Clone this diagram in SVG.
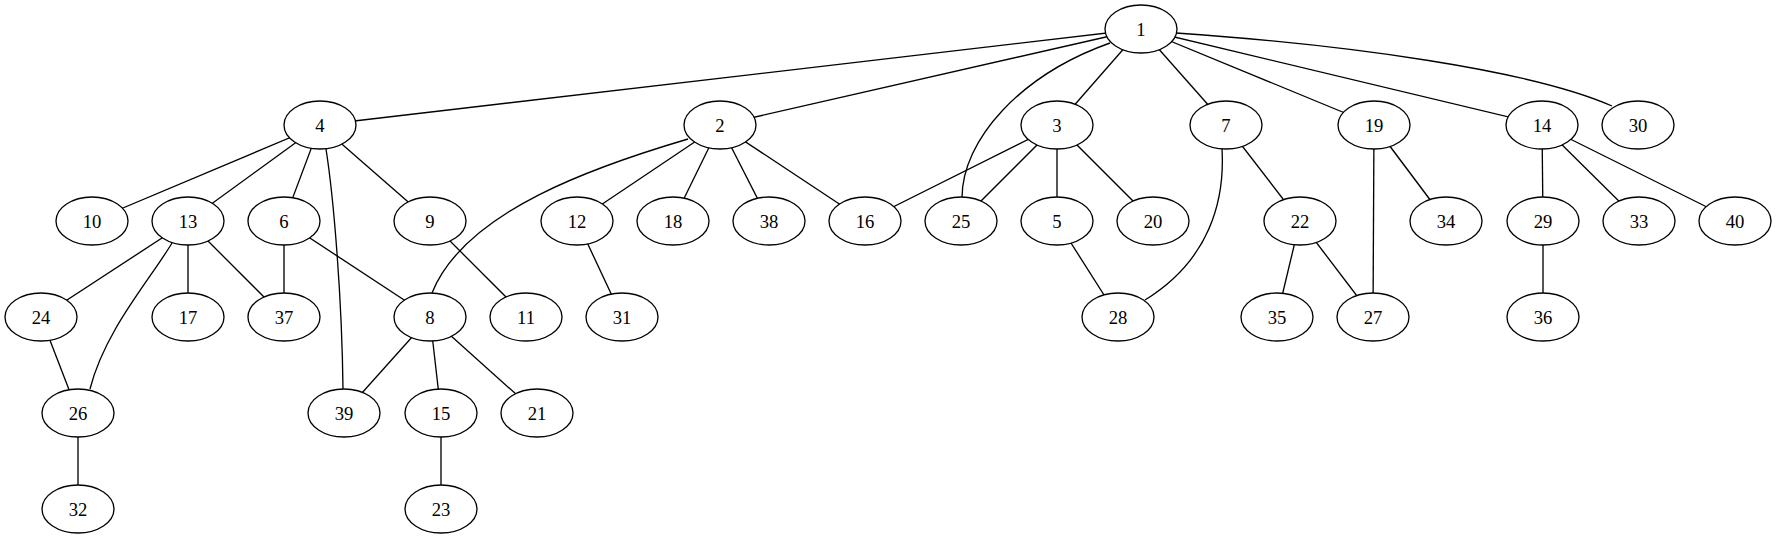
<svg xmlns="http://www.w3.org/2000/svg" width="1776" height="539" viewBox="0 0 1776 539">
<style>
.e{stroke:#000;stroke-width:1.33;fill:none}
.n ellipse{fill:#fff;stroke:#000;stroke-width:1.33}
.n text{font-family:"Liberation Serif","Times New Roman",serif;font-size:18.67px;text-anchor:middle;fill:#000}
</style>
<rect width="1776" height="539" fill="#fff"/>
<g id="edges">
<line class="e" x1="1141" y1="29" x2="320" y2="125"/>
<line class="e" x1="1141" y1="29" x2="720" y2="125"/>
<path class="e" d="M1110,43 C1020,75 962,140 962,198"/>
<line class="e" x1="1141" y1="29" x2="1057" y2="125"/>
<line class="e" x1="1141" y1="29" x2="1226" y2="125"/>
<line class="e" x1="1141" y1="29" x2="1374" y2="125"/>
<line class="e" x1="1141" y1="29" x2="1542" y2="125"/>
<path class="e" d="M1176,33 C1350,45 1530,70 1612,106"/>
<line class="e" x1="320" y1="125" x2="92" y2="221"/>
<line class="e" x1="320" y1="125" x2="188" y2="221"/>
<line class="e" x1="320" y1="125" x2="284" y2="221"/>
<path class="e" d="M326,149 C334,200 342,300 343,389"/>
<line class="e" x1="320" y1="125" x2="430" y2="221"/>
<path class="e" d="M688,139 C600,165 465,210 432,293"/>
<line class="e" x1="720" y1="125" x2="577" y2="221"/>
<line class="e" x1="720" y1="125" x2="673" y2="221"/>
<line class="e" x1="720" y1="125" x2="769" y2="221"/>
<line class="e" x1="720" y1="125" x2="865" y2="221"/>
<line class="e" x1="1057" y1="125" x2="865" y2="221"/>
<line class="e" x1="1057" y1="125" x2="961" y2="221"/>
<line class="e" x1="1057" y1="125" x2="1057" y2="221"/>
<line class="e" x1="1057" y1="125" x2="1153" y2="221"/>
<line class="e" x1="1226" y1="125" x2="1300" y2="221"/>
<path class="e" d="M1222,149 C1225,200 1210,260 1145,300"/>
<line class="e" x1="1374" y1="125" x2="1373" y2="317"/>
<line class="e" x1="1374" y1="125" x2="1446" y2="221"/>
<line class="e" x1="1542" y1="125" x2="1543" y2="221"/>
<line class="e" x1="1542" y1="125" x2="1639" y2="221"/>
<line class="e" x1="1542" y1="125" x2="1735" y2="221"/>
<line class="e" x1="188" y1="221" x2="41" y2="317"/>
<path class="e" d="M172,243 C150,280 105,330 90,389"/>
<line class="e" x1="188" y1="221" x2="188" y2="317"/>
<line class="e" x1="188" y1="221" x2="284" y2="317"/>
<line class="e" x1="284" y1="221" x2="284" y2="317"/>
<line class="e" x1="284" y1="221" x2="430" y2="317"/>
<line class="e" x1="430" y1="221" x2="526" y2="317"/>
<line class="e" x1="577" y1="221" x2="622" y2="317"/>
<line class="e" x1="1057" y1="221" x2="1118" y2="317"/>
<line class="e" x1="1300" y1="221" x2="1277" y2="317"/>
<line class="e" x1="1300" y1="221" x2="1373" y2="317"/>
<line class="e" x1="1543" y1="221" x2="1543" y2="317"/>
<line class="e" x1="41" y1="317" x2="78" y2="413"/>
<line class="e" x1="78" y1="413" x2="78" y2="509"/>
<line class="e" x1="430" y1="317" x2="344" y2="413"/>
<line class="e" x1="430" y1="317" x2="441" y2="413"/>
<line class="e" x1="430" y1="317" x2="537" y2="413"/>
<line class="e" x1="441" y1="413" x2="441" y2="509"/>
</g>
<g id="node1" class="n"><ellipse cx="1141" cy="29" rx="36" ry="24"/><text x="1141" y="35.5">1</text></g>
<g id="node4" class="n"><ellipse cx="320" cy="125" rx="36" ry="24"/><text x="320" y="131.5">4</text></g>
<g id="node2" class="n"><ellipse cx="720" cy="125" rx="36" ry="24"/><text x="720" y="131.5">2</text></g>
<g id="node3" class="n"><ellipse cx="1057" cy="125" rx="36" ry="24"/><text x="1057" y="131.5">3</text></g>
<g id="node7" class="n"><ellipse cx="1226" cy="125" rx="36" ry="24"/><text x="1226" y="131.5">7</text></g>
<g id="node19" class="n"><ellipse cx="1374" cy="125" rx="36" ry="24"/><text x="1374" y="131.5">19</text></g>
<g id="node14" class="n"><ellipse cx="1542" cy="125" rx="36" ry="24"/><text x="1542" y="131.5">14</text></g>
<g id="node30" class="n"><ellipse cx="1638" cy="125" rx="36" ry="24"/><text x="1638" y="131.5">30</text></g>
<g id="node10" class="n"><ellipse cx="92" cy="221" rx="36" ry="24"/><text x="92" y="227.5">10</text></g>
<g id="node13" class="n"><ellipse cx="188" cy="221" rx="36" ry="24"/><text x="188" y="227.5">13</text></g>
<g id="node6" class="n"><ellipse cx="284" cy="221" rx="36" ry="24"/><text x="284" y="227.5">6</text></g>
<g id="node9" class="n"><ellipse cx="430" cy="221" rx="36" ry="24"/><text x="430" y="227.5">9</text></g>
<g id="node12" class="n"><ellipse cx="577" cy="221" rx="36" ry="24"/><text x="577" y="227.5">12</text></g>
<g id="node18" class="n"><ellipse cx="673" cy="221" rx="36" ry="24"/><text x="673" y="227.5">18</text></g>
<g id="node38" class="n"><ellipse cx="769" cy="221" rx="36" ry="24"/><text x="769" y="227.5">38</text></g>
<g id="node16" class="n"><ellipse cx="865" cy="221" rx="36" ry="24"/><text x="865" y="227.5">16</text></g>
<g id="node25" class="n"><ellipse cx="961" cy="221" rx="36" ry="24"/><text x="961" y="227.5">25</text></g>
<g id="node5" class="n"><ellipse cx="1057" cy="221" rx="36" ry="24"/><text x="1057" y="227.5">5</text></g>
<g id="node20" class="n"><ellipse cx="1153" cy="221" rx="36" ry="24"/><text x="1153" y="227.5">20</text></g>
<g id="node22" class="n"><ellipse cx="1300" cy="221" rx="36" ry="24"/><text x="1300" y="227.5">22</text></g>
<g id="node34" class="n"><ellipse cx="1446" cy="221" rx="36" ry="24"/><text x="1446" y="227.5">34</text></g>
<g id="node29" class="n"><ellipse cx="1543" cy="221" rx="36" ry="24"/><text x="1543" y="227.5">29</text></g>
<g id="node33" class="n"><ellipse cx="1639" cy="221" rx="36" ry="24"/><text x="1639" y="227.5">33</text></g>
<g id="node40" class="n"><ellipse cx="1735" cy="221" rx="36" ry="24"/><text x="1735" y="227.5">40</text></g>
<g id="node24" class="n"><ellipse cx="41" cy="317" rx="36" ry="24"/><text x="41" y="323.5">24</text></g>
<g id="node17" class="n"><ellipse cx="188" cy="317" rx="36" ry="24"/><text x="188" y="323.5">17</text></g>
<g id="node37" class="n"><ellipse cx="284" cy="317" rx="36" ry="24"/><text x="284" y="323.5">37</text></g>
<g id="node8" class="n"><ellipse cx="430" cy="317" rx="36" ry="24"/><text x="430" y="323.5">8</text></g>
<g id="node11" class="n"><ellipse cx="526" cy="317" rx="36" ry="24"/><text x="526" y="323.5">11</text></g>
<g id="node31" class="n"><ellipse cx="622" cy="317" rx="36" ry="24"/><text x="622" y="323.5">31</text></g>
<g id="node28" class="n"><ellipse cx="1118" cy="317" rx="36" ry="24"/><text x="1118" y="323.5">28</text></g>
<g id="node35" class="n"><ellipse cx="1277" cy="317" rx="36" ry="24"/><text x="1277" y="323.5">35</text></g>
<g id="node27" class="n"><ellipse cx="1373" cy="317" rx="36" ry="24"/><text x="1373" y="323.5">27</text></g>
<g id="node36" class="n"><ellipse cx="1543" cy="317" rx="36" ry="24"/><text x="1543" y="323.5">36</text></g>
<g id="node26" class="n"><ellipse cx="78" cy="413" rx="36" ry="24"/><text x="78" y="419.5">26</text></g>
<g id="node39" class="n"><ellipse cx="344" cy="413" rx="36" ry="24"/><text x="344" y="419.5">39</text></g>
<g id="node15" class="n"><ellipse cx="441" cy="413" rx="36" ry="24"/><text x="441" y="419.5">15</text></g>
<g id="node21" class="n"><ellipse cx="537" cy="413" rx="36" ry="24"/><text x="537" y="419.5">21</text></g>
<g id="node32" class="n"><ellipse cx="78" cy="509" rx="36" ry="24"/><text x="78" y="515.5">32</text></g>
<g id="node23" class="n"><ellipse cx="441" cy="509" rx="36" ry="24"/><text x="441" y="515.5">23</text></g>
</svg>
